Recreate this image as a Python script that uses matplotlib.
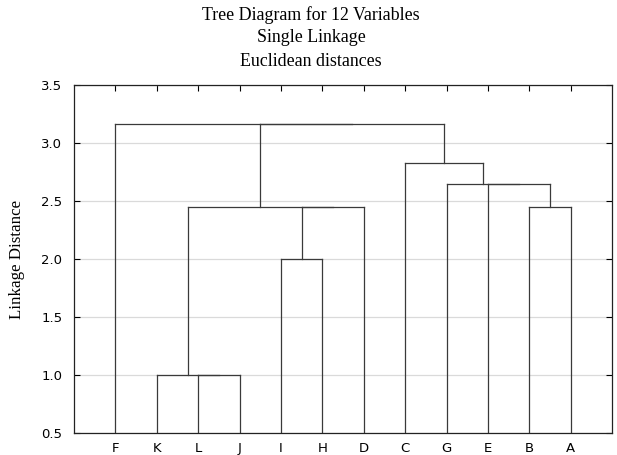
import numpy as np
import matplotlib
matplotlib.use('agg')
import matplotlib.pyplot as plt

# leaf order along x axis
leaves = ['F', 'K', 'L', 'J', 'I', 'H', 'D', 'C', 'G', 'E', 'B', 'A']
# merges: (cluster a, cluster b, linkage distance); new clusters get ids 12, 13, ...
merges = [
    ('L', 'J', 1.0),
    ('K', 12, 1.0),
    ('I', 'H', 2.0),
    ('B', 'A', np.sqrt(6)),
    (14, 'D', np.sqrt(6)),
    (13, 16, np.sqrt(6)),
    ('E', 15, np.sqrt(7)),
    ('G', 18, np.sqrt(7)),
    ('C', 19, np.sqrt(8)),
    (17, 20, np.sqrt(10)),
    ('F', 21, np.sqrt(10)),
]
yticks = [0.5, 1.0, 1.5, 2.0, 2.5, 3.0, 3.5]
titles = ['Tree Diagram for 12 Variables', 'Single Linkage', 'Euclidean distances']

fig = plt.figure(figsize=(6.17, 4.55), dpi=100)
ax = fig.add_axes([0.12, 0.0484, 0.872, 0.7646])

pos = {}
height = {}
for i, name in enumerate(leaves):
    pos[name] = i + 1
    height[name] = 0.5

lc = '#3a3a3a'
for k, (a, b, h) in enumerate(merges):
    xa, xb = pos[a], pos[b]
    ax.plot([xa, xa], [height[a], h], color=lc, lw=0.9)
    ax.plot([xb, xb], [height[b], h], color=lc, lw=0.9)
    ax.plot([xa, xb], [h, h], color=lc, lw=0.9)
    new = len(leaves) + k
    pos[new] = (xa + xb) / 2
    height[new] = h

ax.set_xlim(0, 13)
ax.set_ylim(0.5, 3.5)
ax.set_yticks(yticks)
ax.set_yticklabels(['%.1f' % v for v in yticks], family='DejaVu Sans', fontsize=9.5)
ax.set_xticks(range(1, 13))
ax.set_xticklabels(leaves, family='DejaVu Sans', fontsize=9.5)
ax.tick_params(axis='x', bottom=False, top=True, direction='in', length=4, pad=6.5, width=0.8)
ax.tick_params(axis='y', left=True, right=True, direction='in', length=4, pad=8.5, width=0.8)
ax.grid(axis='y', color='#dadada', lw=0.9)
ax.set_axisbelow(True)
for s in ax.spines.values():
    s.set_linewidth(0.9)
    s.set_color('#222222')

fig.text(17 / 617, 1 - 259 / 455, 'Linkage Distance', rotation=90, ha='center', va='center',
         family='Liberation Serif', fontsize=12.2)
for t, yp in zip(titles, [15, 38, 61]):
    fig.text(0.504, 1 - yp / 455, t, ha='center', va='center',
             family='Liberation Serif', fontsize=12.9)

fig.savefig('out.png', dpi=100)
